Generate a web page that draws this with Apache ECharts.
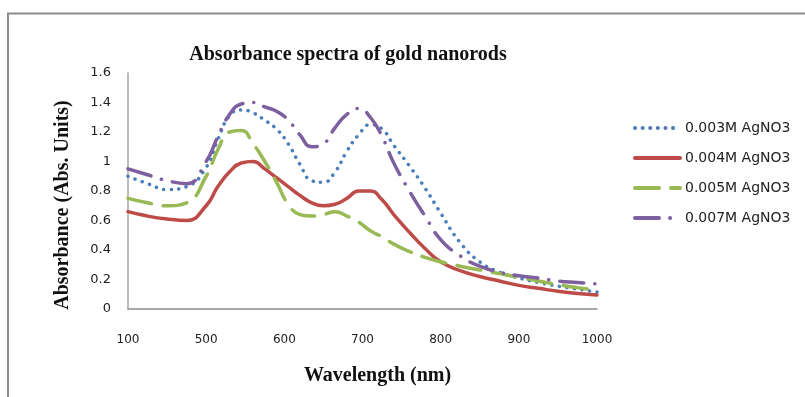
<!DOCTYPE html>
<html>
<head>
<meta charset="utf-8">
<script src="https://cdn.jsdelivr.net/npm/echarts@6/dist/echarts.min.js"></script>
<style>
html,body{margin:0;padding:0;background:#fff;}
#c{width:805px;height:397px;}
</style>
</head>
<body>
<div id="c"></div>
<script>
const wavelengths = [400,425,450,475,500,515,530,545,560,575,590,605,620,635,650,665,680,695,710,725,740,760,780,800,825,850,875,900,925,950,975,1000];
const s003 = [0.90,0.85,0.81,0.83,0.96,1.15,1.31,1.35,1.33,1.28,1.22,1.12,0.98,0.87,0.86,0.93,1.07,1.18,1.25,1.22,1.11,0.97,0.82,0.65,0.45,0.32,0.25,0.21,0.18,0.155,0.135,0.115];
const s004 = [0.66,0.63,0.61,0.60,0.70,0.83,0.93,0.99,1.00,0.95,0.89,0.83,0.77,0.72,0.70,0.71,0.75,0.80,0.80,0.74,0.64,0.52,0.41,0.32,0.26,0.22,0.19,0.16,0.14,0.12,0.105,0.095];
const s005 = [0.75,0.72,0.70,0.72,0.90,1.08,1.20,1.21,1.12,1.00,0.86,0.71,0.64,0.63,0.64,0.66,0.63,0.59,0.53,0.49,0.44,0.39,0.35,0.32,0.29,0.265,0.24,0.215,0.19,0.165,0.145,0.128];
const s007 = [0.95,0.91,0.87,0.85,1.00,1.17,1.32,1.39,1.40,1.37,1.34,1.28,1.18,1.10,1.12,1.23,1.32,1.36,1.30,1.17,0.99,0.80,0.63,0.47,0.36,0.29,0.25,0.225,0.21,0.19,0.18,0.17];
const seriesNames = ['0.003M AgNO3','0.004M AgNO3','0.005M AgNO3','0.007M AgNO3'];
const xTickValues = [400,500,600,700,800,900,1000];
const xTickLabels = ['100','500','600','700','800','900','1000'];
const yTickValues = [0,0.2,0.4,0.6,0.8,1,1.2,1.4,1.6];
const yTickLabels = ['0','0.2','0.4','0.6','0.8','1','1.2','1.4','1.6'];
const titleText = 'Absorbance spectra of gold nanorods';
const xName = 'Wavelength (nm)';
const yName = 'Absorbance (Abs. Units)';

function pairs(ys){ return wavelengths.map((x,i)=>[x, ys[i]]); }
const serif = '"Liberation Serif","DejaVu Serif",serif';
const sans = '"DejaVu Sans",sans-serif';

const chart = echarts.init(document.getElementById('c'), null, {renderer:'canvas'});
chart.setOption({
  animation:false,
  backgroundColor:'#fff',
  title:{
    text:titleText, left:343, top:40, textAlign:'center',
    textStyle:{fontFamily:serif, fontWeight:'bold', fontSize:20, color:'#111'}
  },
  graphic:[
    {type:'polyline', shape:{points:[[8,397],[8,13.5],[805,13.5]]}, style:{stroke:'#8c8c8c', lineWidth:2, fill:null}}
  ],
  legend:{
    orient:'vertical', left:628, top:116, itemWidth:45, itemHeight:14, itemGap:16,
    data:seriesNames,
    itemStyle:{opacity:0},
    lineStyle:{width:4},
    textStyle:{fontFamily:sans, fontSize:14, color:'#222'}
  },
  grid:{left:128, right:208, top:73, bottom:88},
  xAxis:{
    type:'value', min:400, max:1000, interval:100,
    name:xName, nameLocation:'middle', nameGap:57,
    nameTextStyle:{fontFamily:serif, fontWeight:'bold', fontSize:20, color:'#111', padding:[0,0,0,30]},
    axisLine:{show:true, lineStyle:{color:'#8c8c8c', width:1.5}},
    axisTick:{show:false},
    splitLine:{show:false},
    axisLabel:{margin:25, fontFamily:sans, fontSize:12, color:'#222',
      formatter:(v)=>{const i=xTickValues.indexOf(v); return i>=0?xTickLabels[i]:'';}}
  },
  yAxis:{
    type:'value', min:0, max:1.6, interval:0.2,
    name:yName, nameLocation:'middle', nameGap:55,
    nameTextStyle:{fontFamily:serif, fontWeight:'bold', fontSize:20, color:'#111', padding:[0,28,0,0]},
    axisLine:{show:true, lineStyle:{color:'#a6a6a6', width:1.5}},
    axisTick:{show:false},
    splitLine:{show:false},
    axisLabel:{margin:17, fontFamily:sans, fontSize:13, color:'#222',
      formatter:(v)=>{const i=yTickValues.findIndex(t=>Math.abs(t-v)<1e-6); return i>=0?yTickLabels[i]:'';}}
  },
  series:[
    {name:seriesNames[0], type:'line', smooth:true, symbol:'none', data:pairs(s003),
     lineStyle:{color:'#4a7ebb', width:3.5, type:[0.1,7.5], cap:'round'}, itemStyle:{color:'#4a7ebb'}},
    {name:seriesNames[1], type:'line', smooth:true, symbol:'none', data:pairs(s004),
     lineStyle:{color:'#be4b48', width:3.5, type:'solid', cap:'round'}, itemStyle:{color:'#be4b48'}},
    {name:seriesNames[2], type:'line', smooth:true, symbol:'none', data:pairs(s005),
     lineStyle:{color:'#98b954', width:3.5, type:[24,12], cap:'round'}, itemStyle:{color:'#98b954'}},
    {name:seriesNames[3], type:'line', smooth:true, symbol:'none', data:pairs(s007),
     lineStyle:{color:'#7d60a0', width:3.5, type:[24,11,0.1,11], cap:'round'}, itemStyle:{color:'#7d60a0'}}
  ]
});
</script>
</body>
</html>
